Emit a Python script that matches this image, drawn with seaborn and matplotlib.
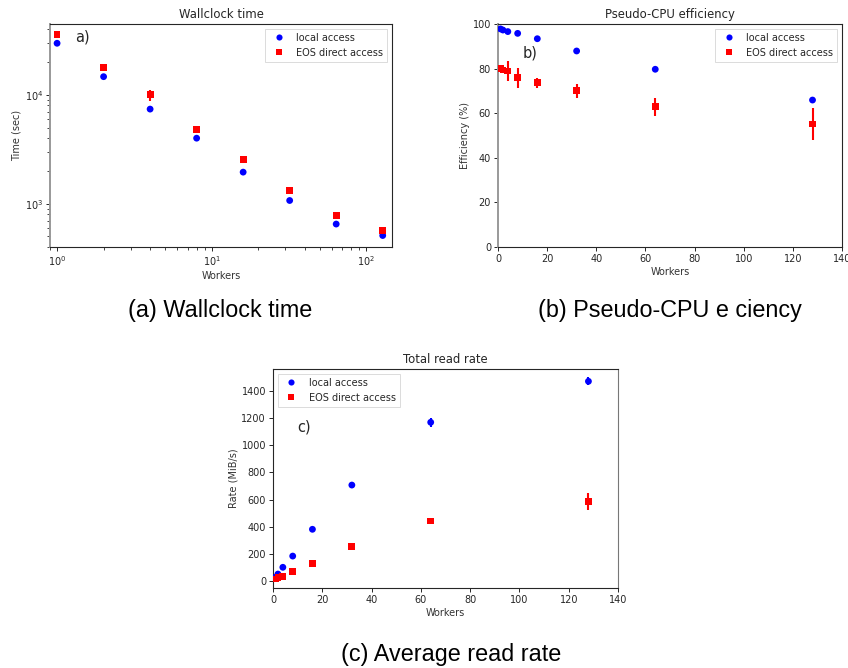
import numpy as np
import pandas as pd
import matplotlib
matplotlib.use("Agg")
import matplotlib.pyplot as plt
import seaborn as sns

workers = [1, 2, 4, 8, 16, 32, 64, 128]

time_local = [29800, 14700, 7400, 4000, 1950, 1070, 650, 510]
time_local_err = [300, 200, 100, 200, 30, 20, 10, 10]
time_eos = [36000, 17900, 10000, 4770, 2530, 1325, 775, 570]
time_eos_err = [500, 400, 1200, 300, 60, 30, 20, 40]

eff_local = [97.8, 97.3, 96.6, 95.8, 93.4, 87.9, 79.7, 65.9]
eff_local_err = [0.3, 0.3, 0.4, 0.3, 0.3, 0.4, 1.0, 0.4]
eff_eos = [80.1, 79.4, 78.9, 75.9, 73.7, 70.0, 62.9, 55.2]
eff_eos_err = [0.5, 0.8, 4.5, 4.5, 2.3, 3.3, 4.0, 7.0]

rate_local = [25, 49, 99, 182, 380, 707, 1171, 1474]
rate_local_err = [2, 3, 4, 5, 6, 8, 35, 30]
rate_eos = [12, 22, 30, 69, 128, 251, 441, 587]
rate_eos_err = [2, 3, 5, 5, 5, 6, 15, 65]

series_names = ["local access", "EOS direct access"]
panel_titles = ["Wallclock time", "Pseudo-CPU efficiency", "Total read rate"]
captions = ["(a) Wallclock time", "(b) Pseudo-CPU e ciency", "(c) Average read rate"]
ylabels = ["Time (sec)", "Efficiency (%)", "Rate (MiB/s)"]
tags = ["a)", "b)", "c)"]

sns.set_style("ticks")
plt.rcParams["font.family"] = ["DejaVu Sans"]

fig = plt.figure(figsize=(8.48, 6.68), dpi=100)
W, H = 848, 668

def axes_px(l, t, r, b):
    return fig.add_axes([l / W, 1 - b / H, (r - l) / W, (b - t) / H])

ax_a = axes_px(50, 24, 392, 247)
ax_b = axes_px(498, 24, 842, 247)
ax_c = axes_px(273, 369, 618, 588)

datasets = [
    (ax_a, time_local, time_local_err, time_eos, time_eos_err),
    (ax_b, eff_local, eff_local_err, eff_eos, eff_eos_err),
    (ax_c, rate_local, rate_local_err, rate_eos, rate_eos_err),
]

for i, (ax, yl, yle, ye, yee) in enumerate(datasets):
    df = pd.DataFrame({
        "Workers": workers * 2,
        "value": yl + ye,
        "err": yle + yee,
        "series": [series_names[0]] * len(workers) + [series_names[1]] * len(workers),
    })
    ax.errorbar(workers, yl, yerr=yle, fmt="none", ecolor="blue", elinewidth=1.5, zorder=2)
    ax.errorbar(workers, ye, yerr=yee, fmt="none", ecolor="red", elinewidth=1.5, zorder=2)
    sns.scatterplot(data=df, x="Workers", y="value", hue="series", style="series",
                    palette={series_names[0]: "blue", series_names[1]: "red"},
                    markers={series_names[0]: "o", series_names[1]: "s"},
                    s=24, linewidth=0, ax=ax, zorder=3)
    ax.set_title(panel_titles[i], fontsize=8.4, pad=4)
    ax.set_xlabel("Workers", fontsize=7, labelpad=2, color="#333333")
    ax.set_ylabel(ylabels[i], fontsize=7, labelpad=2, color="#333333")
    ax.tick_params(labelsize=7, length=3, width=0.7, pad=2)
    for sp in ax.spines.values():
        sp.set_visible(True)
        sp.set_linewidth(0.8)
    loc = "upper left" if i == 2 else "upper right"
    leg = ax.legend(loc=loc, fontsize=7, frameon=True, fancybox=False,
                    borderpad=0.4, handletextpad=0.8, labelspacing=0.5, markerscale=0.9)
    leg.get_frame().set_edgecolor("#cccccc")
    leg.get_frame().set_linewidth(0.6)

ax_a.set_xscale("log")
ax_a.set_yscale("log")
ax_a.set_xlim(0.9, 147)
ax_a.set_ylim(400, 44800)
ax_a.spines["left"].set_color("#999999")
ax_a.spines["left"].set_linewidth(1.4)
ax_a.text(1.3, 34000, tags[0], fontsize=10.5, va="center")

ax_b.set_xlim(0, 140)
ax_b.set_ylim(0, 100)
ax_b.spines["left"].set_color("#999999")
ax_b.spines["left"].set_linewidth(1.4)
ax_b.text(10, 85, tags[1], fontsize=10.5)

ax_c.set_xlim(0, 140)
ax_c.set_ylim(-54, 1565)
ax_c.spines["right"].set_color("#777777")
ax_c.text(10, 1100, tags[2], fontsize=10.5)

cap_font = ["Liberation Sans", "DejaVu Sans"]
fig.text(220 / W, 1 - 311 / H, captions[0], ha="center", va="center", fontsize=16.8,
         family=cap_font, color="black")
fig.text(670 / W, 1 - 311 / H, captions[1], ha="center", va="center", fontsize=16.8,
         family=cap_font, color="black")
fig.text(451 / W, 1 - 655 / H, captions[2], ha="center", va="center", fontsize=16.8,
         family=cap_font, color="black")

fig.savefig("out.png", dpi=100)
